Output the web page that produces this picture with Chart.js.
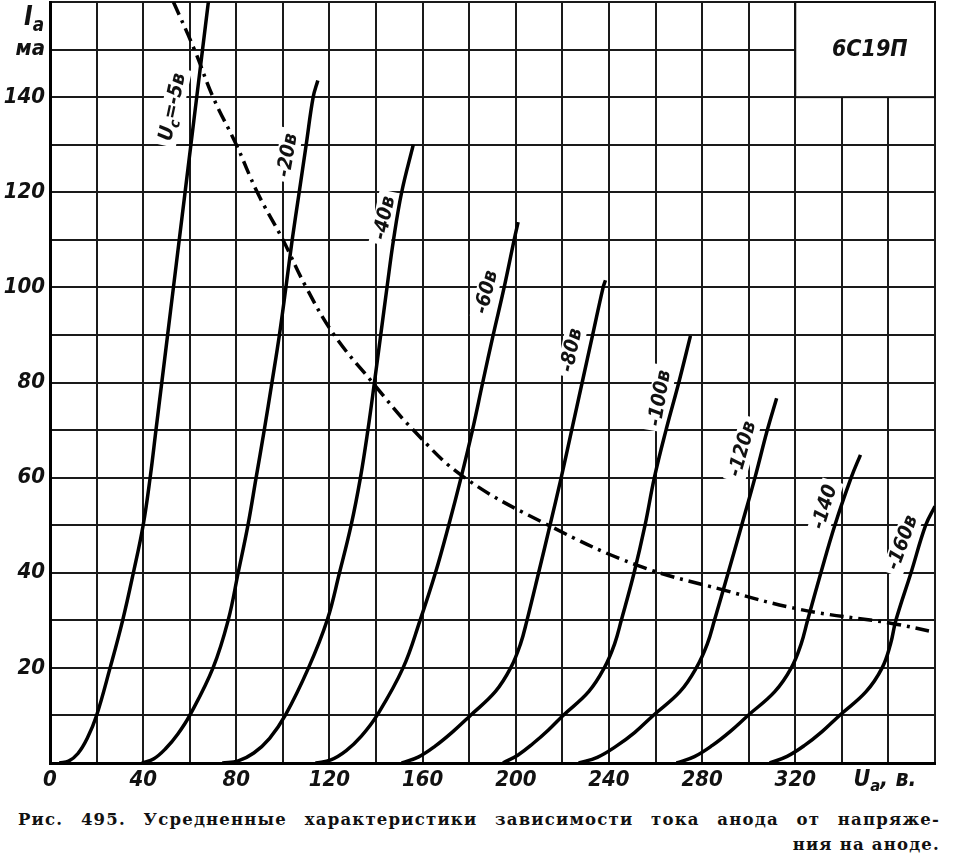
<!DOCTYPE html>
<html>
<head>
<meta charset="utf-8">
<script src="https://cdn.jsdelivr.net/npm/chart.js@4"></script>
<style>
  body { margin: 0; background: #fff; }
  #wrap { position: relative; width: 958px; height: 868px; }
  #caption { position: absolute; left: 18px; top: 807px; width: 922px;
             font-family: "DejaVu Serif", "Liberation Serif", serif; font-weight: bold;
             font-size: 16.5px; letter-spacing: 1.2px; color: #111; line-height: 25px; }
  #caption .l1 { text-align: justify; text-align-last: justify; }
  #caption .l2 { text-align: right; }
</style>
</head>
<body>
<div id="wrap">
  <canvas id="chart" width="958" height="800"></canvas>
  <div id="caption">
    <div class="l1">Рис. 495. Усредненные характеристики зависимости тока анода от напряже-</div>
    <div class="l2">ния на аноде.</div>
  </div>
</div>
<script>
// anode voltage (в) / anode current (ма) points
const ucM5   = [[4,0],[8,0.4],[12,2],[16,5.2],[20,10],[25.8,20],[31.2,30],[35.8,40],[40,50],[43,60],[45.5,70],[48,80],[50.5,90],[53,100],[55.5,110],[58,120],[60.5,130],[63,140],[65.5,150],[68,160]];
const ucM20  = [[39.5,0],[44.6,0.9],[49.8,3.1],[54.9,6.1],[60,10],[70,20],[76.5,30],[80.8,40],[85,50],[88.5,60],[92,70],[95.3,80],[98.5,90],[101.3,100],[104,110],[107,120],[110,130],[113,140],[115,143.5]];
const ucM40  = [[74,0],[80.8,0.45],[87.5,2.1],[94.3,5.2],[101,10],[111,20],[119,30],[124.3,40],[129.3,50],[133.3,60],[136.5,70],[139.3,80],[142,90],[144.7,100],[147.5,110],[151,120],[156,130]];
const ucM60  = [[114,0],[120.6,0.65],[127.2,2.6],[133.8,5.7],[140.4,10],[151.6,20],[158.9,30],[165.5,40],[171.2,50],[176.5,60],[181.4,70],[185.8,80],[190.3,90],[195,100],[199.3,110],[201,113.7]];
const ucM80  = [[151,0],[158.3,1.3],[165.5,3.6],[173,6.6],[180.5,10],[191.2,15],[197.8,20],[202,25],[204.8,30],[209.8,40],[214.7,50],[219.5,60],[224,70],[228.5,80],[233,90],[237.5,100],[238.5,101.5]];
const ucM100 = [[194.5,0],[201,1.7],[207.4,4.1],[213.9,6.9],[220.3,10],[231.3,15],[238,20],[242.4,25],[245.3,30],[250.8,40],[255.5,50],[259.5,60],[264.5,70],[270,80],[275,89.8]];
const ucM120 = [[227,0],[235,1.2],[243,3.5],[251,6.4],[259,10],[270.5,15],[277.5,20],[282.2,25],[285.3,30],[291.2,40],[297,50],[302.7,60],[308,70],[312,76.7]];
const ucM140 = [[269,0],[276.7,1.35],[284.4,3.7],[292,6.6],[299.7,10],[311.2,15],[318.3,20],[322.5,25],[325.3,30],[331,40],[337,50],[344,60],[348,64.8]];
const ucM160 = [[309,0],[316.5,1.4],[324,3.7],[331.5,6.6],[339,10],[350.4,15],[357.3,20],[360.9,25],[363.2,30],[369.7,40],[376,50],[380,54]];

// permissible anode dissipation curve (dash-dot)
const pMax = [[53,160],[62,150],[70,140],[80,130],[89,120],[100,110],[110,100],[122,90],[138.5,80],[156,70],[178,60],[214,50],[252,41.6],[289,36.4],[323,32.2],[361,29.4],[380,27.5]];

const curves = [ucM5, ucM20, ucM40, ucM60, ucM80, ucM100, ucM120, ucM140, ucM160];

// curve captions: text, anchor (в, ма), rotation in degrees
const curveLabels = [
  ['=-5в', 52.8, 137.9, 78, true],
  ['-20в', 102.2, 127.8, 80],
  ['-40в', 143.8, 114.6, 78],
  ['-60в', 187.6, 99, 76],
  ['-80в', 224.1, 86.8, 78],
  ['-100в', 262, 76.7, 80],
  ['-120в', 297.5, 66, 74],
  ['-140', 332.8, 53.8, 73],
  ['-160в', 366.2, 46.3, 70]
];

const FONT = '"DejaVu Sans Condensed", "DejaVu Sans", sans-serif';
function fnt(size) { return 'italic bold ' + size + 'px ' + FONT; }

// draws text pieces, the ones flagged sub are smaller and lowered
function drawParts(ctx, parts, size, x, y, align) {
    let w = 0;
    parts.forEach(p => {
        ctx.font = fnt(p.sub ? size * 0.72 : size);
        p.w = ctx.measureText(p.t).width;
        w += p.w;
    });
    let cx = align === 'center' ? x - w / 2 : (align === 'right' ? x - w : x);
    ctx.textAlign = 'left';
    ctx.textBaseline = 'middle';
    parts.forEach(p => {
        ctx.font = fnt(p.sub ? size * 0.72 : size);
        ctx.fillText(p.t, cx, p.sub ? y + size * 0.3 : y);
        cx += p.w;
    });
    return w;
}

const LBL = 20;

const overlay = {
    id: 'overlay',
    beforeDatasetsDraw(chart) {
        const { ctx, scales: { x, y } } = chart;
        ctx.save();

        // type box in the upper right corner
        const bx0 = x.getPixelForValue(320), bx1 = x.getPixelForValue(380);
        const by0 = y.getPixelForValue(160), by1 = y.getPixelForValue(140);
        ctx.fillStyle = '#fff';
        ctx.fillRect(bx0, by0, bx1 - bx0, by1 - by0);
        ctx.strokeStyle = '#111';
        ctx.lineWidth = 2;
        ctx.strokeRect(bx0, by0, bx1 - bx0, by1 - by0);
        ctx.fillStyle = '#111';
        ctx.font = fnt(23);
        ctx.textAlign = 'center';
        ctx.textBaseline = 'middle';
        ctx.fillText('6С19П', x.getPixelForValue(352), y.getPixelForValue(150));

        // curve captions on white patches
        curveLabels.forEach(([txt, vx, vy, ang, withU]) => {
            const parts = withU ? [{ t: 'U' }, { t: 'с', sub: true }, { t: txt }] : [{ t: txt }];
            ctx.save();
            ctx.translate(x.getPixelForValue(vx), y.getPixelForValue(vy));
            ctx.rotate(-ang * Math.PI / 180);
            let w = 0;
            parts.forEach(p => { ctx.font = fnt(p.sub ? LBL * 0.72 : LBL); w += ctx.measureText(p.t).width; });
            ctx.fillStyle = '#fff';
            ctx.fillRect(-w / 2 - 5, -11, w + 10, 22);
            ctx.fillStyle = '#111';
            drawParts(ctx, parts, LBL, 0, 0, 'center');
            ctx.restore();
        });
        ctx.restore();
    },
    afterDraw(chart) {
        const { ctx, scales: { x, y } } = chart;
        ctx.save();
        ctx.fillStyle = '#111';
        // axis names
        drawParts(ctx, [{ t: 'I' }, { t: 'а', sub: true }], 26, x.left - 6, y.getPixelForValue(156.5), 'right');
        drawParts(ctx, [{ t: 'U' }, { t: 'а', sub: true }, { t: ', в.' }], 23, x.getPixelForValue(345), y.bottom + 17, 'left');
        ctx.restore();
    }
};

const datasets = curves.map(c => ({
    data: c.map(p => ({ x: p[0], y: p[1] })),
    showLine: true,
    borderColor: '#000',
    borderWidth: 3.5,
    pointRadius: 0,
    tension: 0.4
}));
datasets.push({
    data: pMax.map(p => ({ x: p[0], y: p[1] })),
    showLine: true,
    borderColor: '#000',
    borderWidth: 3.5,
    borderDash: [14, 6, 3, 6],
    pointRadius: 0,
    tension: 0.4
});

new Chart(document.getElementById('chart'), {
    type: 'scatter',
    data: { datasets: datasets },
    options: {
        responsive: false,
        animation: false,
        events: [],
        layout: { padding: { top: 2, right: 23, left: 0, bottom: 0 } },
        plugins: { legend: { display: false }, tooltip: { enabled: false } },
        scales: {
            x: {
                type: 'linear', min: 0, max: 380,
                ticks: {
                    stepSize: 20, autoSkip: false, maxRotation: 0, padding: 4,
                    color: '#111', font: { family: FONT, size: 22, style: 'italic', weight: 'bold' },
                    callback: v => (v % 40 === 0 && v <= 320) ? String(v) : ''
                },
                grid: { color: '#1a1a1a', lineWidth: 2, drawTicks: false },
                border: { color: '#000', width: 3 },
                afterFit(s) { s.height = 37; s.paddingLeft = 0; s.paddingRight = 0; }
            },
            y: {
                type: 'linear', min: 0, max: 160,
                ticks: {
                    stepSize: 10, autoSkip: false, padding: 5,
                    color: '#111', font: { family: FONT, size: 22, style: 'italic', weight: 'bold' },
                    callback: v => v === 150 ? 'ма' : ((v % 20 === 0 && v > 0 && v <= 140) ? String(v) : '')
                },
                grid: { color: '#1a1a1a', lineWidth: 2, drawTicks: false },
                border: { color: '#000', width: 3 },
                afterFit(s) { s.width = 50; s.paddingTop = 0; s.paddingBottom = 0; }
            }
        }
    },
    plugins: [overlay]
});
</script>
</body>
</html>
